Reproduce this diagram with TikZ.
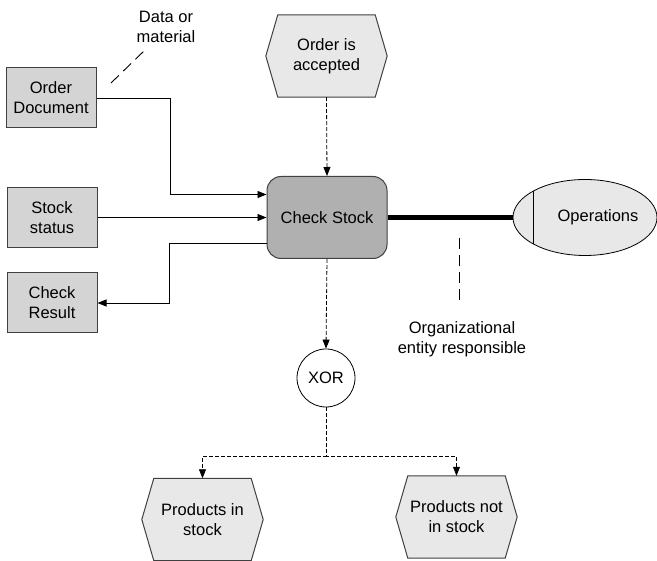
\documentclass[tikz,border=0pt]{standalone}
\usepackage{fontspec}
\setmainfont{Liberation Sans}
\usetikzlibrary{arrows.meta,shapes.geometric,backgrounds,calc}
\definecolor{boxfill}{HTML}{D4D4D4}
\definecolor{taskfill}{HTML}{B0B0B0}
\definecolor{evfill}{HTML}{E8E8E8}
\definecolor{edge}{HTML}{404040}
\begin{document}
\begin{tikzpicture}[x=1pt,y=-1pt,
  every node/.style={font=\fontsize{16.5}{20}\selectfont, align=center, inner sep=0pt},
  databox/.style={draw=edge, fill=boxfill, line width=1pt, minimum width=90pt, minimum height=60pt},
  taskbox/.style={draw=edge, fill=taskfill, line width=1pt, rounded corners=14pt, minimum width=120pt, minimum height=82pt},
  hexbox/.style={minimum width=121pt, minimum height=82pt},
  hexdraw/.style={draw=edge, fill=evfill, line width=1pt},
  orgshape/.style={ellipse, draw=black, fill=evfill, line width=0.8pt, minimum width=144pt, minimum height=76pt},
  xorshape/.style={circle, draw=black, fill=white, line width=0.8pt, minimum size=58pt},
  flow/.style={draw=black, line width=0.8pt, -{Triangle[length=9pt,width=7pt]}},
  ctrl/.style={draw=black, line width=0.8pt, dash pattern=on 4pt off 2pt, -{Triangle[length=9pt,width=7pt]}},
  annot/.style={draw=black, line width=0.9pt, dash pattern=on 11pt off 6pt},
  orgline/.style={draw=black, line width=4.5pt}
]
\useasboundingbox (0,0) rectangle (657,561);

% data objects
\node[databox] (od) at (51,98) {Order\\Document};
\node[databox] (ss) at (52,217.5) {Stock\\status};
\node[databox] (cr) at (52,303) {Check\\Result};

% function
\node[taskbox] (cs) at (327,217.5) {Check Stock};

% events
\node[hexbox] (acc) at (326.5,56) {Order is\\accepted};
\node[hexbox] (pin) at (202.5,519.5) {Products in\\stock};
\node[hexbox] (pnot) at (456.5,517) {Products not\\in stock};
\begin{scope}[on background layer]
  \foreach \h in {acc,pin,pnot}{
    \path[hexdraw] (\h.west) -- ([xshift=12pt]\h.north west) -- ([xshift=-12pt]\h.north east)
      -- (\h.east) -- ([xshift=-12pt]\h.south east) -- ([xshift=12pt]\h.south west) -- cycle;
  }
\end{scope}

% organizational unit
\node[orgshape] (ops) at (585,217.5) {};
\draw[black, line width=0.8pt] ([xshift=-52pt,yshift=26.3pt]ops.center) -- ([xshift=-52pt,yshift=-26.3pt]ops.center);
\node (opst) at (598,217.5) {Operations};

% connector
\node[xorshape] (xor) at (326,378) {XOR};

% annotations
\node (datalbl) at (166,27) {Data or\\material};
\node (orglbl) at (462,339) {Organizational\\entity responsible};
\coordinate (da1) at (111,83);
\coordinate (da2) at (146,49);
\coordinate (oa1) at (459,238);
\coordinate (oa2) at (459,306);
\draw[annot] (da1) -- (da2);
\draw[annot] (oa1) -- (oa2);

% flows
\draw[flow] (od.east) -- ++(74,0) |- ([yshift=23pt]cs.west);
\draw[flow] (ss.east) -- (cs.west);
\draw[flow] ([yshift=-26pt]cs.west) -- ++(-97,0) |- (cr.east);
\draw[orgline] (cs.east) -- (ops.west);

% control flow
\draw[ctrl] (acc.south) -- (cs.north);
\draw[ctrl] (cs.south) -- (xor.north);
\draw[ctrl] (xor.south) -- ++(0,49) -| (pin.north);
\draw[ctrl] (xor.south) -- ++(0,49) -| (pnot.north);
\end{tikzpicture}
\end{document}
